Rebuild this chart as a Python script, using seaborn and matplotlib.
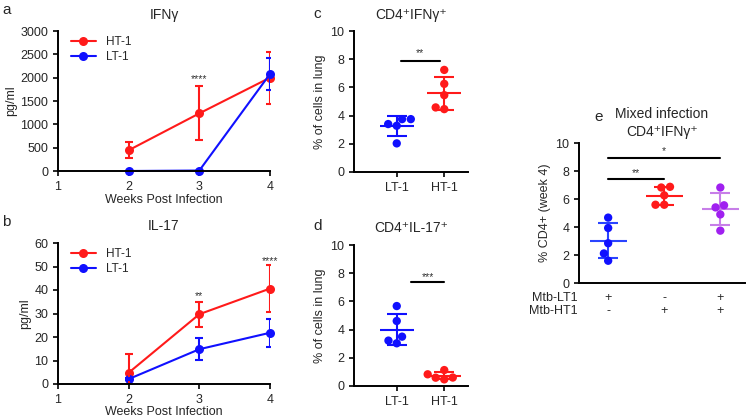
import seaborn as sns
import matplotlib.pyplot as plt
import pandas as pd
import numpy as np

# time course data (mean, SD)
weeks = [2, 3, 4]
ifng_ht_mean = [445, 1235, 2000]
ifng_ht_sd = [170, 580, 560]
ifng_lt_mean = [0, 10, 2080]
ifng_lt_sd = [0, 0, 350]
il17_ht_mean = [4.8, 29.7, 40.6]
il17_ht_sd = [8.0, 5.3, 9.9]
il17_lt_mean = [2.1, 14.8, 21.8]
il17_lt_sd = [0.6, 4.7, 6.0]

# single animal values
groups_cd = ["LT-1", "HT-1"]
c_lt = [3.75, 3.28, 3.75, 3.40, 2.03]
c_ht = [7.24, 6.25, 5.45, 4.46, 4.58]
d_lt = [5.67, 4.61, 3.50, 3.22, 3.03]
d_ht = [1.13, 0.47, 0.83, 0.59, 0.60]
e_groups = ["LT1", "HT1", "mix"]
e_lt = [4.67, 3.93, 2.84, 2.11, 1.59]
e_ht = [6.87, 6.82, 6.26, 5.59, 5.59]
e_mix = [6.82, 5.40, 5.55, 4.90, 3.74]
e_row_lt1 = ["+", "-", "+"]
e_row_ht1 = ["-", "+", "+"]

RED = "#ff1a1a"
BLUE = "#1010ff"
PURPLE = "#a020f0"
PURPLE_LT = "#c77ee8"

sns.set_style("ticks")
plt.rcParams["font.family"] = ["Liberation Sans", "DejaVu Sans"]
plt.rcParams["axes.linewidth"] = 1.4
plt.rcParams["xtick.major.width"] = 1.4
plt.rcParams["ytick.major.width"] = 1.4
plt.rcParams["xtick.major.size"] = 3.5
plt.rcParams["ytick.major.size"] = 3.5
plt.rcParams["xtick.labelsize"] = 9
plt.rcParams["ytick.labelsize"] = 9
plt.rcParams["axes.labelsize"] = 9
plt.rcParams["axes.edgecolor"] = "black"

W, H = 749, 420
fig = plt.figure(figsize=(W / 100, H / 100), dpi=100)


def add_ax(l, t, r, b):
    return fig.add_axes([l / W, 1 - b / H, (r - l) / W, (b - t) / H])


def time_panel(ax, ht_m, ht_sd, lt_m, lt_sd, title, ymax, step):
    df = pd.DataFrame({
        "week": weeks * 2,
        "value": ht_m + lt_m,
        "group": ["HT-1"] * 3 + ["LT-1"] * 3,
    })
    sns.lineplot(data=df, x="week", y="value", hue="group", palette=[RED, BLUE],
                 marker="o", markersize=6.5, markeredgewidth=0, linewidth=1.5, ax=ax)
    for art in ax.lines:
        art.set_clip_on(False)
    ax.errorbar(weeks, ht_m, yerr=ht_sd, fmt="none", ecolor=RED, elinewidth=1.5, capsize=3, capthick=1.5)
    ax.errorbar(weeks, lt_m, yerr=lt_sd, fmt="none", ecolor=BLUE, elinewidth=1.5, capsize=3, capthick=1.5)
    ax.set_xlim(1, 4)
    ax.set_ylim(0, ymax)
    ax.set_xticks([1, 2, 3, 4])
    ax.set_yticks(np.arange(0, ymax + 1, step))
    ax.set_xlabel("Weeks Post Infection", labelpad=1)
    ax.set_ylabel("pg/ml", labelpad=2)
    ax.set_title(title, fontsize=10, pad=9)
    ax.legend(loc="upper left", frameon=False, fontsize=8.5, handlelength=2.2,
              borderaxespad=0.3, labelspacing=0.25, bbox_to_anchor=(0.02, 1.02))
    sns.despine(ax=ax)


ax_a = add_ax(58, 31, 270, 171)
time_panel(ax_a, ifng_ht_mean, ifng_ht_sd, ifng_lt_mean, ifng_lt_sd, "IFN\u03b3", 3000, 500)
ax_a.text(3, 1975, "****", ha="center", va="center", fontsize=7.5, color="#333333")

ax_b = add_ax(58, 243, 270, 384)
time_panel(ax_b, il17_ht_mean, il17_ht_sd, il17_lt_mean, il17_lt_sd, "IL-17", 60, 10)
ax_b.xaxis.labelpad = 0
ax_b.text(3, 37.3, "**", ha="center", va="center", fontsize=7.5, color="#333333")
ax_b.text(4, 52.1, "****", ha="center", va="center", fontsize=7.5, color="#333333")


def scatter_panel(ax, names, values, dot_colors, bar_colors, mean_w, size=6):
    df = pd.DataFrame({
        "group": np.repeat(names, [len(v) for v in values]),
        "value": np.concatenate(values),
    })
    sns.swarmplot(data=df, x="group", y="value", hue="group", palette=dot_colors,
                  order=names, size=size, linewidth=0, legend=False, ax=ax)
    for i, v in enumerate(values):
        m = np.mean(v)
        sd = np.std(v, ddof=1)
        ax.hlines(m, i - mean_w, i + mean_w, color=bar_colors[i], linewidth=1.5)
        ax.errorbar(i, m, yerr=sd, fmt="none", ecolor=bar_colors[i], elinewidth=1.5,
                    capsize=7, capthick=1.5)
    ax.set_ylim(0, 10)
    ax.set_yticks([0, 2, 4, 6, 8, 10])
    ax.set_xlabel("")
    sns.despine(ax=ax)


def sig(ax, x0, x1, y, label, ty):
    ax.plot([x0, x1], [y, y], color="black", linewidth=1.5)
    ax.text((x0 + x1) / 2, ty, label, ha="center", va="center", fontsize=7.5, color="#333333")


ax_c = add_ax(354, 31, 468, 172)
scatter_panel(ax_c, groups_cd, [c_lt, c_ht], [BLUE, RED], [BLUE, RED], 0.36)
ax_c.set_xlim(-0.9, 1.5)
ax_c.set_ylabel("% of cells in lung", labelpad=3)
ax_c.set_title("CD4\u207aIFN\u03b3\u207a", fontsize=10, pad=9)
sig(ax_c, 0.08, 0.91, 7.9, "**", 8.42)

ax_d = add_ax(354, 245, 468, 386)
scatter_panel(ax_d, groups_cd, [d_lt, d_ht], [BLUE, RED], [BLUE, RED], 0.36)
ax_d.set_xlim(-0.9, 1.5)
ax_d.set_ylabel("% of cells in lung", labelpad=3)
ax_d.set_title("CD4\u207aIL-17\u207a", fontsize=10, pad=9)
sig(ax_d, 0.3, 1.0, 7.4, "***", 7.75)

ax_e = add_ax(579, 143, 745, 283)
scatter_panel(ax_e, e_groups, [e_lt, e_ht, e_mix], [BLUE, RED, PURPLE],
              ["#2a44ff", RED, PURPLE_LT], 0.33)
ax_e.set_xlim(-0.52, 2.44)
ax_e.set_xticklabels([])
ax_e.tick_params(axis="x", length=0)
ax_e.set_ylabel("% CD4+ (week 4)", labelpad=3)
ax_e.set_title("Mixed infection\nCD4\u207aIFN\u03b3\u207a", fontsize=10, pad=5, linespacing=1.35)
sig(ax_e, 0, 1, 7.42, "**", 7.82)
sig(ax_e, 0, 2, 8.96, "*", 9.43)
trans = ax_e.get_xaxis_transform()
ax_e.text(-0.01, -0.11, "Mtb-LT1", transform=ax_e.transAxes, ha="right", va="center", fontsize=9)
ax_e.text(-0.01, -0.2, "Mtb-HT1", transform=ax_e.transAxes, ha="right", va="center", fontsize=9)
for i in range(len(e_groups)):
    ax_e.text(i, -0.11, e_row_lt1[i], transform=trans, ha="center", va="center", fontsize=9)
    ax_e.text(i, -0.2, e_row_ht1[i], transform=trans, ha="center", va="center", fontsize=9)

# panel letters
for lab, x, y in [("a", 2, 10), ("b", 2, 222), ("c", 313, 14), ("d", 313, 226), ("e", 594, 117)]:
    fig.text(x / W, 1 - y / H, lab, fontsize=11, va="center", ha="left")

fig.savefig("out.png", dpi=100)
